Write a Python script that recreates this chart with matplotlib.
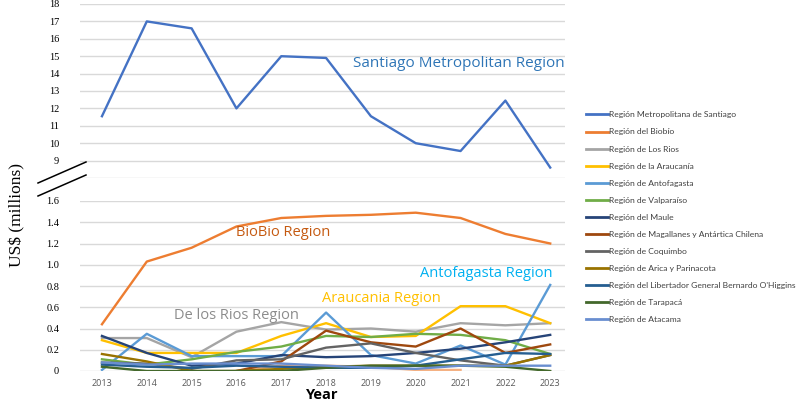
import matplotlib.pyplot as plt
from matplotlib.lines import Line2D

years = list(range(2013, 2024))

# values in US$ millions
santiago = [11.55, 17.0, 16.6, 12.0, 15.0, 14.9, 11.55, 10.0, 9.55, 12.45, 8.6]
biobio = [0.44, 1.03, 1.16, 1.36, 1.44, 1.46, 1.47, 1.49, 1.44, 1.29, 1.20]
los_rios = [0.31, 0.31, 0.13, 0.37, 0.46, 0.39, 0.40, 0.37, 0.45, 0.43, 0.45]
araucania = [0.29, 0.17, 0.17, 0.17, 0.33, 0.45, 0.32, 0.33, 0.61, 0.61, 0.45]
antofagasta = [0.01, 0.35, 0.14, 0.14, 0.14, 0.55, 0.15, 0.07, 0.24, 0.06, 0.81]
valparaiso = [0.11, 0.06, 0.11, 0.18, 0.23, 0.33, 0.32, 0.35, 0.34, 0.29, 0.16]
maule = [0.33, 0.17, 0.05, 0.07, 0.15, 0.13, 0.14, 0.17, 0.21, 0.27, 0.34]
magallanes = [None, None, None, 0.0, 0.09, 0.38, 0.27, 0.23, 0.40, 0.17, 0.25]
coquimbo = [0.08, 0.07, 0.02, 0.10, 0.11, 0.22, 0.26, 0.17, 0.10, 0.05, 0.15]
arica = [0.16, 0.09, 0.0, 0.0, 0.02, 0.04, 0.05, 0.05, 0.05, 0.05, 0.15]
ohiggins = [0.06, 0.04, 0.03, 0.05, 0.04, 0.03, 0.03, 0.05, 0.11, 0.17, 0.16]
tarapaca = [0.04, 0.0, 0.0, 0.0, 0.0, 0.03, 0.05, 0.05, 0.05, 0.04, 0.0]
atacama = [0.08, 0.06, 0.07, 0.07, 0.07, 0.05, 0.03, 0.02, 0.05, 0.05, 0.05]
unlabelled = [None, None, None, 0.0, 0.05, 0.05, 0.04, 0.01, 0.01, None, None]

series = [
    ("Región Metropolitana de Santiago", santiago, "#4472C4"),
    ("Región del Biobío", biobio, "#ED7D31"),
    ("Región de Los Rios", los_rios, "#A5A5A5"),
    ("Región de la Araucanía", araucania, "#FFC000"),
    ("Región de Antofagasta", antofagasta, "#5B9BD5"),
    ("Región de Valparaíso", valparaiso, "#70AD47"),
    ("Región del Maule", maule, "#264478"),
    ("Región de Magallanes y Antártica Chilena", magallanes, "#9E480E"),
    ("Región de Coquimbo", coquimbo, "#636363"),
    ("Región de Arica y Parinacota", arica, "#997300"),
    ("Región del Libertador General Bernardo O'Higgins", ohiggins, "#255E91"),
    ("Región de Tarapacá", tarapaca, "#43682B"),
    ("Región de Atacama", atacama, "#698ED0"),
]

W, H = 797, 403
fig = plt.figure(figsize=(W / 100, H / 100), dpi=100)

def px(x0, y0, x1, y1):
    return [x0 / W, 1 - y1 / H, (x1 - x0) / W, (y1 - y0) / H]

ax_top = fig.add_axes(px(80, 4, 565, 178))
ax_bot = fig.add_axes(px(80, 201, 565, 371))

handles = []
for name, vals, col in series:
    ys = [float('nan') if v is None else v for v in vals]
    ax_bot.plot(years, ys, color=col, lw=1.7)
    ax_top.plot(years, ys, color=col, lw=1.7)
    handles.append(Line2D([], [], color=col, lw=2, label=name))
ax_bot.plot(years, [float('nan') if v is None else v for v in unlabelled],
            color="#F4B183", lw=1.7, zorder=1)

for ax in (ax_top, ax_bot):
    ax.set_xlim(2012.51, 2023.33)
    for s in ax.spines.values():
        s.set_visible(False)
    ax.grid(axis='y', color='#d9d9d9', lw=1)
    ax.set_axisbelow(True)
    ax.tick_params(axis='both', length=0)
    ax.tick_params(axis='y', pad=15)

ax_top.set_ylim(8, 18)
ax_top.set_yticks(range(8, 19))
ax_top.set_yticklabels([''] + [str(v) for v in range(9, 19)],
                       family='Liberation Serif', fontsize=7.5)
ax_top.set_xticks([])

ax_bot.set_ylim(0, 1.6)
bticks = [0, 0.2, 0.4, 0.6, 0.8, 1.0, 1.2, 1.4, 1.6]
ax_bot.set_yticks(bticks)
ax_bot.set_yticklabels(['0'] + ['%.1f' % v for v in bticks[1:]],
                       family='Liberation Serif', fontsize=7.5)
ax_bot.set_xticks(years)
ax_bot.set_xticklabels([str(y) for y in years], family='Open Sans',
                       fontsize=6.5, color='#595959')
ax_bot.tick_params(axis='x', pad=6)

# annotations
ax_top.text(2018.6, 14.6, "Santiago Metropolitan Region", color="#2E75B6",
            fontsize=11, family='Open Sans', va='center')
ax_bot.text(2016.0, 1.3, "BioBio Region", color="#C55A11",
            fontsize=10.5, family='Open Sans', va='center')
ax_bot.text(2020.1, 0.92, "Antofagasta Region", color="#00B0F0",
            fontsize=10.5, family='Open Sans', va='center')
ax_bot.text(2017.9, 0.68, "Araucania Region", color="#FFC000",
            fontsize=10.5, family='Open Sans', va='center')
ax_bot.text(2014.6, 0.52, "De los Rios Region", color="#8C8C8C",
            fontsize=10.5, family='Open Sans', va='center')

fig.text(322 / W, 1 - 395 / H, "Year", fontsize=10.5, fontweight='bold',
         family='Open Sans', ha='center', va='center')
fig.text(17 / W, 1 - 215 / H, "US$ (millions)", fontsize=12.5,
         family='Liberation Serif', rotation=90, ha='center', va='center')

# axis break marks
for dy in (0, 13):
    fig.add_artist(Line2D([38 / W, 86 / W], [1 - (183 + dy) / H, 1 - (162 + dy) / H],
                          color='black', lw=1.1))

leg = fig.legend(handles=handles, loc='upper left',
                 bbox_to_anchor=(583 / W, 1 - 108 / H), frameon=False,
                 prop={'family': 'Lato', 'size': 6.1}, handlelength=2.5,
                 handletextpad=0.15, labelspacing=1.19, borderaxespad=0)
for t in leg.get_texts():
    t.set_color('#404040')

fig.savefig("out.png", dpi=100)
